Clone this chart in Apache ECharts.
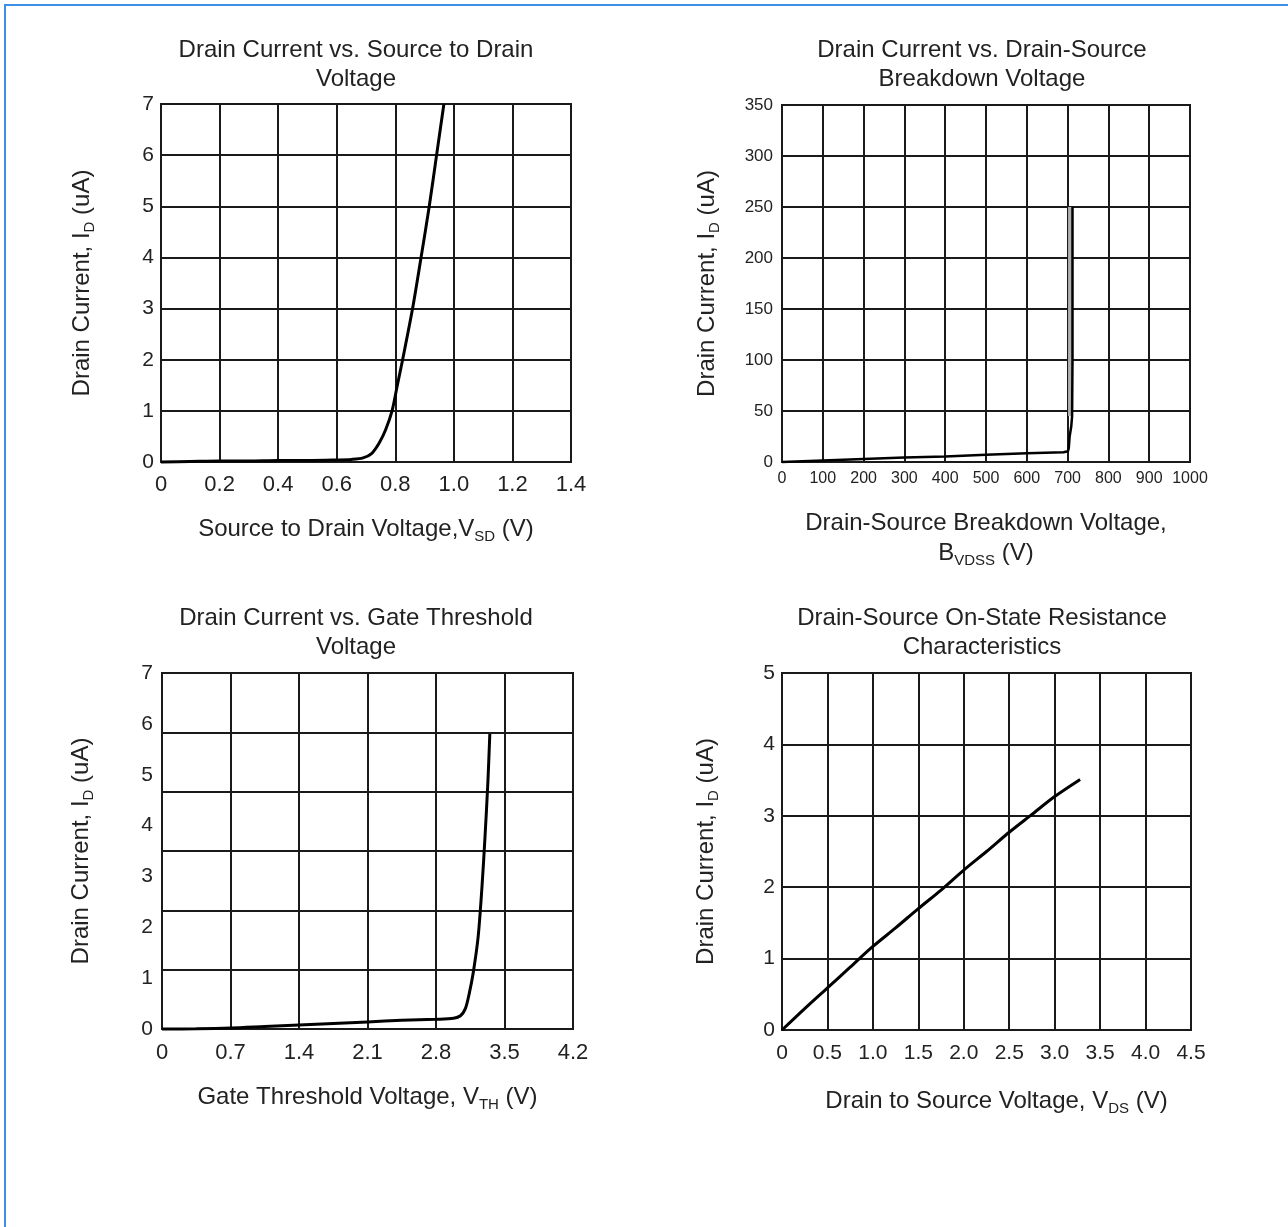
<!DOCTYPE html>
<html>
<head>
<meta charset="utf-8">
<script src="https://cdn.jsdelivr.net/npm/echarts@6/dist/echarts.min.js"></script>
<style>
html, body { margin: 0; padding: 0; background: #fff; }
#frame { position: absolute; left: 4px; top: 4px; width: 1284px; height: 1223px;
  border-top: 2px solid #3d8fe6; border-left: 2px solid #3d8fe6; box-sizing: border-box; }
#main { position: absolute; left: 0; top: 0; width: 1288px; height: 1227px; }
</style>
</head>
<body>
<div id="frame"></div>
<div id="main"></div>
<script>
// tick values of each axis
var vsdTicks = [0, 0.2, 0.4, 0.6, 0.8, 1.0, 1.2, 1.4];
var vsdIdTicks = [0, 1, 2, 3, 4, 5, 6, 7];
var bvTicks = [0, 100, 200, 300, 400, 500, 600, 700, 800, 900, 1000];
var bvIdTicks = [0, 50, 100, 150, 200, 250, 300, 350];
var vthTicks = [0, 0.7, 1.4, 2.1, 2.8, 3.5, 4.2];
var vthIdTicks = [0, 1, 2, 3, 4, 5, 6, 7];
var vthGridRows = [0, 1, 2, 3, 4, 5, 6];   // the plot's own grid has 6 rows
var vdsTicks = [0, 0.5, 1.0, 1.5, 2.0, 2.5, 3.0, 3.5, 4.0, 4.5];
var vdsIdTicks = [0, 1, 2, 3, 4, 5];

// curves: [voltage, current uA]
var vsdCurve = [[0, 0], [0.1, 0.01], [0.2, 0.02], [0.3, 0.02], [0.4, 0.03], [0.5, 0.03],
  [0.6, 0.04], [0.65, 0.05], [0.69, 0.08], [0.72, 0.17], [0.745, 0.37], [0.767, 0.63],
  [0.789, 1.0], [0.807, 1.5], [0.825, 2.0], [0.859, 3.0], [0.888, 4.0], [0.916, 5.0],
  [0.941, 6.0], [0.966, 7.0]];
var bvCurve = [[0, 0], [100, 1.5], [200, 3], [300, 4.5], [400, 5.5], [500, 7], [600, 8.5],
  [690, 9.5], [701, 10.5], [703, 14], [705, 25], [709, 35], [711, 45], [712, 100], [712, 250]];
var bvShade = [[706, 45], [706, 250]];
var vthCurve = [[0, 0], [0.35, 0.005], [0.7, 0.02], [1.05, 0.05], [1.4, 0.08], [1.75, 0.11],
  [2.1, 0.14], [2.45, 0.17], [2.8, 0.19], [2.98, 0.21], [3.05, 0.26], [3.1, 0.4], [3.14, 0.7],
  [3.18, 1.1], [3.23, 1.8], [3.27, 2.8], [3.3, 3.75], [3.33, 4.85], [3.35, 5.8]];
var vdsCurve = [[0, 0], [0.25, 0.3], [0.5, 0.59], [0.75, 0.88], [1.0, 1.17], [1.25, 1.43],
  [1.5, 1.7], [1.75, 1.96], [2.0, 2.24], [2.25, 2.5], [2.5, 2.77], [2.75, 3.02],
  [3.0, 3.27], [3.28, 3.51]];

var FONT = 'Liberation Sans';
var INK = '#1a1a1a';

function fix1(v) { return v === 0 ? '0' : v.toFixed(1); }
function plain(v) { return String(v); }

function valAxis(ticks, gridIndex, opt) {
  var a = {
    type: 'value',
    gridIndex: gridIndex,
    min: ticks[0],
    max: ticks[ticks.length - 1],
    interval: ticks[1] - ticks[0],
    axisLine: { show: true, lineStyle: { color: INK, width: 2 } },
    axisTick: { show: false },
    splitLine: { show: true, lineStyle: { color: INK, width: 2 } },
    axisLabel: { color: '#222', fontFamily: FONT, fontSize: opt.fontSize || 20,
      margin: opt.margin || 8, formatter: opt.formatter || plain },
    nameLocation: 'middle',
    nameGap: opt.nameGap || 50,
    name: opt.name || '',
    nameRotate: opt.nameRotate,
    nameTextStyle: {
      color: '#222', fontFamily: FONT, fontSize: 24, lineHeight: 30,
      padding: opt.namePadding || 0,
      rich: {
        s: { fontFamily: FONT, fontSize: 15, color: '#222', verticalAlign: 'bottom' }
      }
    }
  };
  if (opt.extra) { for (var k in opt.extra) a[k] = opt.extra[k]; }
  return a;
}

function titleAt(text, x, y) {
  return {
    text: text, left: x, top: y, textAlign: 'center', padding: 0,
    textStyle: { fontFamily: FONT, fontSize: 24, fontWeight: 'normal', color: '#222', lineHeight: 29 }
  };
}

function curve(data, xi, yi, smooth, w, color) {
  return {
    type: 'line', xAxisIndex: xi, yAxisIndex: yi, data: data,
    showSymbol: false, smooth: smooth, clip: false,
    lineStyle: { color: color || '#000', width: w || 3 }
  };
}

var yName = 'Drain Current, I{s|D} (uA)';

var chart = echarts.init(document.getElementById('main'));
var option = {
  backgroundColor: 'transparent',
  animation: false,
  title: [
    titleAt('Drain Current vs. Source to Drain\nVoltage', 356, 36),
    titleAt('Drain Current vs. Drain-Source\nBreakdown Voltage', 982, 36),
    titleAt('Drain Current vs. Gate Threshold\nVoltage', 356, 604),
    titleAt('Drain-Source On-State Resistance\nCharacteristics', 982, 604)
  ],
  grid: [
    { left: 161, top: 104, width: 410, height: 358, show: true, borderColor: INK, borderWidth: 2 },
    { left: 782, top: 105, width: 408, height: 357, show: true, borderColor: INK, borderWidth: 2 },
    { left: 162, top: 673, width: 411, height: 356, show: true, borderColor: INK, borderWidth: 2 },
    { left: 782, top: 673, width: 409, height: 357, show: true, borderColor: INK, borderWidth: 2 }
  ],
  xAxis: [
    valAxis(vsdTicks, 0, { formatter: fix1, fontSize: 22, margin: 12, nameGap: 52,
      name: 'Source to Drain Voltage,V{s|SD} (V)' }),
    valAxis(bvTicks, 1, { fontSize: 16, margin: 9, nameGap: 46,
      name: 'Drain-Source Breakdown Voltage,\nB{s|VDSS} (V)' }),
    valAxis(vthTicks, 2, { formatter: fix1, fontSize: 22, margin: 13, nameGap: 53,
      name: 'Gate Threshold Voltage, V{s|TH} (V)' }),
    valAxis(vdsTicks, 3, { formatter: fix1, fontSize: 21, margin: 13, nameGap: 56,
      name: 'Drain to Source Voltage, V{s|DS} (V)', namePadding: [0, 0, 0, 20] })
  ],
  yAxis: [
    valAxis(vsdIdTicks, 0, { fontSize: 21, margin: 7, nameGap: 64, nameRotate: 90, name: yName }),
    valAxis(bvIdTicks, 1, { fontSize: 17, margin: 9, nameGap: 60, nameRotate: 90, name: yName }),
    valAxis(vthIdTicks, 2, { fontSize: 21, margin: 9, nameGap: 66, nameRotate: 90, name: yName,
      extra: { splitLine: { show: false } } }),
    valAxis(vthGridRows, 2, { extra: { axisLabel: { show: false }, axisLine: { show: false } } }),
    valAxis(vdsIdTicks, 3, { fontSize: 21, margin: 7, nameGap: 61, nameRotate: 90, name: yName })
  ],
  series: [
    curve(vsdCurve, 0, 0, 0.3),
    curve(bvShade, 1, 1, false, 4, '#b0b0b0'),
    curve(bvCurve, 1, 1, false, 2.5),
    curve(vthCurve, 2, 2, 0.3),
    curve(vdsCurve, 3, 4, 0.3)
  ]
};
chart.setOption(option);
</script>
</body>
</html>
